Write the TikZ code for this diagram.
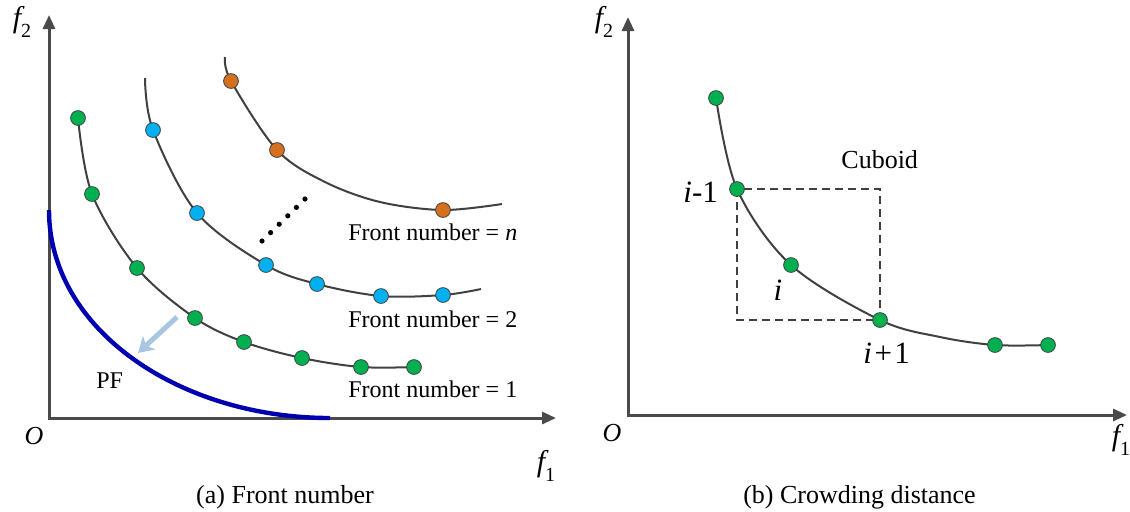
\documentclass[tikz,border=0pt]{standalone}
\usepackage{fontspec}
\setmainfont{Liberation Serif}
\usetikzlibrary{arrows.meta}
\definecolor{dotgreen}{HTML}{00B050}
\definecolor{dotblue}{HTML}{00B0F0}
\definecolor{dotorange}{RGB}{212,112,30}
\definecolor{curvegray}{HTML}{404040}
\definecolor{axisgray}{HTML}{4A4A4A}
\definecolor{pfblue}{HTML}{0000B0}
\definecolor{arrowblue}{HTML}{A8C6E2}
\begin{document}
\begin{tikzpicture}[x=0.5pt,y=-0.5pt,
  axis/.style={draw=axisgray, line width=1.5pt, line join=miter, {Triangle[length=7pt,width=6pt]}-{Triangle[length=7pt,width=6pt]}},
  front/.style={draw=curvegray, line width=1pt},
  pt/.style={circle, draw=curvegray, line width=0.4pt, minimum size=7.4pt, inner sep=0pt},
  gpt/.style={pt, fill=dotgreen},
  bpt/.style={pt, fill=dotblue},
  opt/.style={pt, fill=dotorange},
  smalldot/.style={circle, fill=black, minimum size=2.6pt, inner sep=0pt},
  lbl/.style={font=\fontsize{12}{14}\selectfont, inner sep=0pt},
  captxt/.style={font=\fontsize{13}{15}\selectfont, inner sep=0pt},
  idx/.style={font=\fontsize{15.5}{17}\selectfont, inner sep=0pt},
  axlbl/.style={font=\fontsize{15}{17}\selectfont, inner sep=0pt},
  pf/.style={draw=pfblue, line width=2.2pt},
  pfarrow/.style={draw=arrowblue, line width=2.5pt, -{Stealth[length=7.5pt,width=9pt,inset=2pt]}},
  box/.style={draw=curvegray, line width=0.6pt, dash pattern=on 4pt off 2.5pt}
]
\useasboundingbox (0,0) rectangle (1130,511);

% ---------------- (a) Front number ----------------
\coordinate (Yl) at (49,15);
\coordinate (Ol) at (49,418);
\coordinate (Xl) at (556,418);
\draw[axis] (Yl) -- (Ol) -- (Xl);
\node[axlbl] (f2l) at (22,22) {\itshape f\raisebox{-0.35em}{\fontsize{10}{10}\selectfont\upshape 2}};
\node[axlbl] (f1l) at (546,466) {\itshape f\raisebox{-0.35em}{\fontsize{10}{10}\selectfont\upshape 1}};
\node[captxt] (Olab) at (34,436) {\itshape O};

% Pareto front
\coordinate (pfA) at (49,210);
\coordinate (pfB) at (330,418);
\draw[pf] (pfA) .. controls (49,330) and (180,418) .. (pfB);
\coordinate (arA) at (177,317);
\coordinate (arB) at (138,353);
\draw[pfarrow] (arA) -- (arB);
\node[lbl, anchor=base west] (pflab) at (96,388) {PF};

% front 1
\coordinate (a1) at (78,118);
\coordinate (a2) at (92,194);
\coordinate (a3) at (137,268);
\coordinate (a4) at (195,318);
\coordinate (a5) at (244,342);
\coordinate (a6) at (302,358);
\coordinate (a7) at (361,367);
\coordinate (a8) at (414,367);
\draw[front] plot[smooth, tension=0.55] coordinates {(a1) (a2) (a3) (a4) (a5) (a6) (a7) (a8)};

% front 2
\coordinate (b0) at (145,78);
\coordinate (b1) at (153,130);
\coordinate (b2) at (197,213);
\coordinate (b3) at (266,265);
\coordinate (b4) at (317,284);
\coordinate (b5) at (381,296);
\coordinate (b6) at (443,295);
\coordinate (b7) at (481,289);
\draw[front] plot[smooth, tension=0.55] coordinates {(b0) (b1) (b2) (b3) (b4) (b5) (b6) (b7)};

% front n
\coordinate (c0) at (225,57);
\coordinate (c1) at (231,81);
\coordinate (c2) at (277,150);
\coordinate (c3) at (325,182);
\coordinate (c4) at (380,202);
\coordinate (c5) at (443,210);
\coordinate (c6) at (502,204);
\draw[front] plot[smooth, tension=0.55] coordinates {(c0) (c1) (c2) (c3) (c4) (c5) (c6)};

% dots
\foreach \p in {a1,a2,a3,a4,a5,a6,a7,a8} \node[gpt] (d\p) at (\p) {};
\foreach \p in {b1,b2,b3,b4,b5,b6} \node[bpt] (d\p) at (\p) {};
\foreach \p in {c1,c2,c5} \node[opt] (d\p) at (\p) {};

% ellipsis dots
\foreach \k in {0,...,5} \node[smalldot] (e\k) at ({262+\k*8.6},{241-\k*8.4}) {};

\node[lbl, anchor=base west] (lbn) at (348,240) {Front number = \itshape n};
\node[lbl, anchor=base west] (lb2) at (348,327) {Front number = 2};
\node[lbl, anchor=base west] (lb1) at (348,397) {Front number = 1};

\node[captxt, anchor=base] (capa) at (285,503) {(a) Front number};

% ---------------- (b) Crowding distance ----------------
\coordinate (Yr) at (628,17);
\coordinate (Or) at (628,415);
\coordinate (Xr) at (1127,415);
\draw[axis] (Yr) -- (Or) -- (Xr);
\node[axlbl] (f2r) at (604,22) {\itshape f\raisebox{-0.35em}{\fontsize{10}{10}\selectfont\upshape 2}};
\node[axlbl] (f1r) at (1121,440) {\itshape f\raisebox{-0.35em}{\fontsize{10}{10}\selectfont\upshape 1}};
\node[captxt] (Orlab) at (612,433) {\itshape O};

\coordinate (r1) at (716,98);
\coordinate (r2) at (737,189);
\coordinate (r3) at (791,265);
\coordinate (r4) at (880,320);
\coordinate (r5) at (940,337);
\coordinate (r6) at (995,345);
\coordinate (r7) at (1048,345);
\draw[front] plot[smooth, tension=0.55] coordinates {(r1) (r2) (r3) (r4) (r5) (r6) (r7)};

\draw[box] (r2) rectangle (r4);

\foreach \p in {r1,r2,r3,r4,r6,r7} \node[gpt] (d\p) at (\p) {};

\node[captxt, anchor=base west] (cub) at (841,168) {Cuboid};
\node[idx, anchor=base west] (im1) at (683,202) {\itshape i\upshape -1};
\node[idx, anchor=base] (ii) at (778,300) {\itshape i};
\node[idx, anchor=base west] (ip1) at (863,363) {\itshape i\upshape\kern0.08em+\kern0.08em1};

\node[captxt, anchor=base] (capb) at (859.5,503) {(b) Crowding distance};
\end{tikzpicture}
\end{document}
